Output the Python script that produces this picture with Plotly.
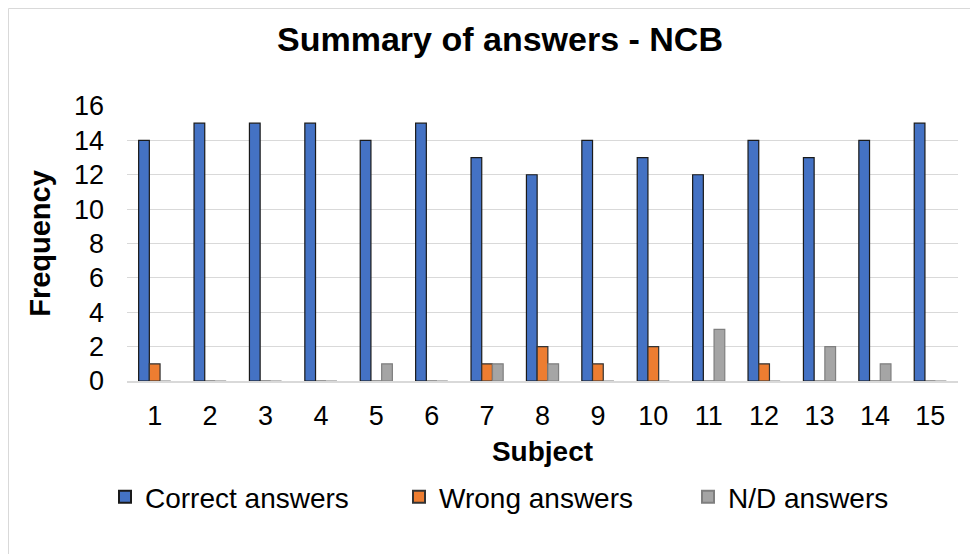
import plotly.graph_objects as go

subjects = [str(i) for i in range(1, 16)]
correct = [14, 15, 15, 15, 14, 15, 13, 12, 14, 13, 12, 14, 13, 14, 15]
wrong = [1, 0, 0, 0, 0, 0, 1, 2, 1, 2, 0, 1, 0, 0, 0]
nd = [0, 0, 0, 0, 1, 0, 1, 1, 0, 0, 3, 0, 2, 1, 0]

W, H = 978, 554
ml, mr, mt, mb = 119, 28, 98, 181
pw = W - ml - mr
ph = H - mt - mb

fig = go.Figure()
fig.add_trace(go.Bar(x=subjects, y=correct, name='Correct answers', legend='legend',
                     marker=dict(color='#4472c4', line=dict(color='#1a1a1a', width=1.2))))
fig.add_trace(go.Bar(x=subjects, y=wrong, name='Wrong answers', legend='legend2',
                     marker=dict(color='#ed7d31', line=dict(color='#333333', width=1.2))))
fig.add_trace(go.Bar(x=subjects, y=nd, name='N/D answers', legend='legend3',
                     marker=dict(color='#a5a5a5', line=dict(color='#7f7f7f', width=1.2))))

# outer chart border
fig.add_shape(type='rect', xref='paper', yref='paper',
              x0=(0.5 - ml) / pw, x1=(966 - ml) / pw,
              y0=-(H - 0.5 - mt - ph) / ph, y1=1 + (mt - 0.5) / ph,
              line=dict(color='#d9d9d9', width=1), layer='below')

leg_y = -(489 - (mt + ph)) / ph


def leg(xpix):
    return dict(orientation='h', x=(xpix - ml) / pw, xanchor='left',
                y=leg_y, yanchor='middle', font=dict(size=28),
                itemsizing='constant', bgcolor='rgba(0,0,0,0)')


fig.update_layout(
    width=W, height=H,
    margin=dict(l=ml, r=mr, t=mt, b=mb),
    paper_bgcolor='white', plot_bgcolor='white',
    font=dict(family='Liberation Sans, Arial, sans-serif', size=27, color='#000000'),
    title=dict(text='<b>Summary of answers - NCB</b>', x=(492 - ml) / pw, xref='paper',
               xanchor='center', y=1 - 31 / H, yanchor='middle', font=dict(size=34)),
    barmode='group', bargap=0.42, bargroupgap=0.0,
    xaxis=dict(title=dict(text='<b>Subject</b>', font=dict(size=28), standoff=11),
               showline=True, linecolor='#d9d9d9', linewidth=1.5,
               ticks='', tickfont=dict(size=27), ticklabelstandoff=10),
    yaxis=dict(title=dict(text='<b>Frequency</b>', font=dict(size=29), standoff=14),
               range=[0, 16], dtick=2, showgrid=True, gridcolor='#d9d9d9',
               gridwidth=1, zeroline=False, showline=False, tickfont=dict(size=27),
               ticklabelstandoff=22),
    legend=leg(97),
    legend2=leg(391),
    legend3=leg(680),
    showlegend=True,
)

fig.write_html("out.html")
